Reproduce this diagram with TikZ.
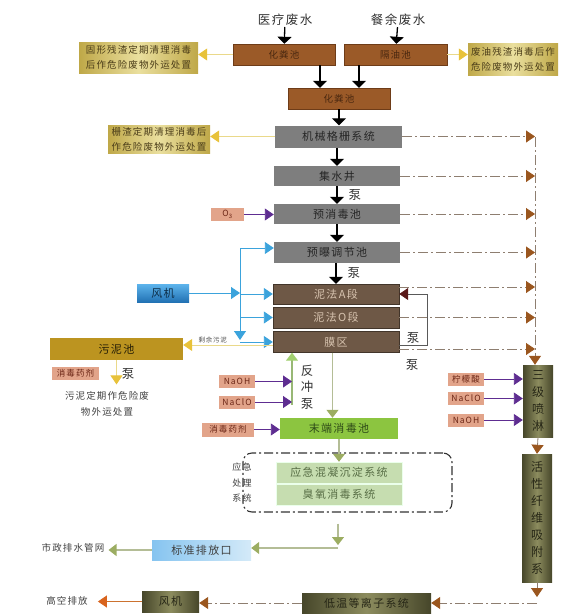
\documentclass[tikz,border=0pt]{standalone}
\usepackage{fontspec}
\setmainfont[LetterSpace=12]{Noto Sans CJK SC}
\usetikzlibrary{arrows.meta, calc}
\definecolor{zongse}{HTML}{9B5A28}
\definecolor{zongbian}{HTML}{6E3C18}
\definecolor{zongzi}{HTML}{4A2810}
\definecolor{huise}{HTML}{7E7E7E}
\definecolor{nise}{HTML}{6E5846}
\definecolor{nizi}{HTML}{D8C4B0}
\definecolor{jinA}{HTML}{BFA848}
\definecolor{jinB}{HTML}{EADF9E}
\definecolor{jinzi}{HTML}{4A3C18}
\definecolor{yaose}{HTML}{E2A48A}
\definecolor{yaozi}{HTML}{6A2414}
\definecolor{zise}{HTML}{5E2D91}
\definecolor{lanse}{HTML}{3BA3DC}
\definecolor{lanA}{HTML}{2272B4}
\definecolor{lanB}{HTML}{5DB4EC}
\definecolor{huangjian}{HTML}{E8C23A}
\definecolor{huangxian}{HTML}{EAD98A}
\definecolor{wunise}{HTML}{BC9420}
\definecolor{lvse}{HTML}{8CC540}
\definecolor{qianlv}{HTML}{C6DDB0}
\definecolor{lvzi}{HTML}{2E4A18}
\definecolor{huilv}{HTML}{B4BD96}
\definecolor{huilvjian}{HTML}{9CAD62}
\definecolor{fcjian}{HTML}{A2D070}
\definecolor{qianlanA}{HTML}{86C4F0}
\definecolor{qianlanB}{HTML}{D4EAF8}
\definecolor{ganlanA}{HTML}{46462A}
\definecolor{ganlanB}{HTML}{8C8C5E}
\definecolor{ganlanzi}{HTML}{262616}
\definecolor{xuxianse}{HTML}{8E7E70}
\definecolor{zongjian}{HTML}{9A561E}
\definecolor{anhong}{HTML}{5A1818}
\definecolor{chengse}{HTML}{D8641E}
\tikzset{
	>={Triangle[width=12pt,length=9pt]},
	% 棕色池体
	zongchi/.style={draw=zongbian, fill=zongse, minimum width=102pt, minimum height=21pt, inner sep=1pt,
	                text=zongzi, font=\fontsize{9.5}{11}\selectfont},
	% 灰色构筑物
	huichi/.style={fill=huise, minimum width=126pt, minimum height=20pt, inner sep=1pt,
	               text=black!85, font=\fontsize{11}{13}\selectfont},
	% 生化段（泥法）
	nifa/.style={draw=nise!60!black, fill=nise, minimum width=126pt, minimum height=20pt, inner sep=1pt,
	             text=nizi, font=\fontsize{11}{13}\selectfont},
	% 金色说明框
	shuoming/.style={left color=jinA, right color=jinA, middle color=jinB, align=center, inner sep=1pt,
	                 text=jinzi, font=\fontsize{9.5}{15}\selectfont},
	% 药剂框
	yaoji/.style={fill=yaose, minimum width=36pt, minimum height=13pt, inner sep=1pt,
	              text=yaozi, font=\fontsize{8.5}{9}\selectfont},
	% 橄榄色设备
	ganlan/.style={left color=ganlanA, right color=ganlanA, middle color=ganlanB, inner sep=1pt,
	               text=ganlanzi, font=\fontsize{11}{13}\selectfont},
	% 竖排文字设备
	shupai/.style={ganlan, align=center, minimum width=30pt, font=\fontsize{12}{17}\selectfont},
	% 绿色池体
	lvchi/.style={fill=lvse, minimum width=118pt, minimum height=21pt, inner sep=1pt,
	              text=lvzi, font=\fontsize{11}{13}\selectfont},
	qianlvchi/.style={fill=qianlv, draw=white!92!green, minimum width=126pt, minimum height=21pt, inner sep=1pt,
	                  text=lvzi!80, font=\fontsize{11}{13}\selectfont},
	% 普通文字
	wenzi/.style={inner sep=2pt, text=black!75, font=\fontsize{9.5}{16}\selectfont, align=center},
	bengzi/.style={inner sep=1pt, text=black!80, font=\fontsize{12.5}{16.5}\selectfont, align=center},
	% 连线
	zhuliu/.style={-{Triangle[width=14pt,length=7pt]}, line width=1.3pt},
	ziline/.style={->, zise, line width=0.9pt},
	lanline/.style={->, lanse, line width=0.9pt},
	huangline/.style={-{Triangle[width=12pt,length=9pt,color=huangjian]}, huangxian, line width=1pt},
	lvline/.style={-{Triangle[width=12pt,length=8pt,color=huilvjian]}, huilv, line width=1.2pt},
	fcline/.style={-{Triangle[width=12pt,length=8pt,color=fcjian]}, fcjian!70!gray, line width=1.1pt},
	xuxian/.style={-{Triangle[width=12pt,length=9pt,color=zongjian]}, xuxianse, line width=0.8pt,
	               dash pattern=on 10pt off 3pt on 2pt off 3pt},
}

\begin{document}
\begin{tikzpicture}[x=1pt, y=-1pt]
    \useasboundingbox (0,0) rectangle (587,616);

    % 进水与预处理
    \node[bengzi, font=\fontsize{12.5}{14}\selectfont] (ylfs) at (285,20) {医疗废水};
    \node[bengzi, font=\fontsize{12.5}{14}\selectfont] (cyfs) at (398,20) {餐余废水};
    \node[zongchi] (hfc1) at (284,54.5) {化粪池};
    \node[zongchi, minimum width=103pt] (gyc) at (395.5,54.5) {隔油池};
    \node[zongchi] (hfc2) at (339,98.5) {化粪池};
    \node[shuoming, minimum width=119pt, minimum height=31pt] (gxcz) at (138.5,57.5) {固形残渣定期清理消毒\\后作危险废物外运处置};
    \node[shuoming, minimum width=90pt, minimum height=32pt] (fycz) at (513,59) {废油残渣消毒后作\\危险废物外运处置};
    \draw[zhuliu] (ylfs) -- (hfc1);
    \draw[zhuliu] (cyfs) -- (gyc);
    \draw[huangline] (hfc1.west) -- (hfc1.west -| gxcz.east);
    \draw[huangline] (gyc.east) -- (gyc.east -| fycz.west);
    \draw[zhuliu] ([xshift=36pt]hfc1.south) -- ([xshift=36pt]hfc1.south |- hfc2.north);
    \draw[zhuliu] ([xshift=-36.5pt]gyc.south) -- ([xshift=-36.5pt]gyc.south |- hfc2.north);

    % 主流程
    \node[huichi, minimum width=127pt, minimum height=22pt] (jxgs) at (338.5,136.5) {机械格栅系统};
    \node[huichi] (jsj) at (337,176) {集水井};
    \node[huichi] (yxdc) at (337,214) {预消毒池};
    \node[huichi, minimum height=21pt] (ybtj) at (337,252.5) {预曝调节池};
    \node[nifa] (ad) at (336,294) {泥法A段};
    \node[nifa, minimum height=21pt] (od) at (336,317.5) {泥法O段};
    \node[nifa, minimum height=21pt] (mq) at (336,342) {膜区};
    \node[shuoming, minimum width=102pt, minimum height=28pt] (szcz) at (159,139) {栅渣定期清理消毒后\\作危险废物外运处置};
    \draw[zhuliu] (hfc2.south) -- (hfc2.south |- jxgs.north);
    \draw[huangline] (jxgs.west) -- (jxgs.west -| szcz.east);
    \draw[zhuliu] (jxgs.south -| jsj.north) -- (jsj.north);
    \draw[zhuliu] (jsj.south) -- (yxdc.north) node[midway, right=10pt, bengzi] (beng1) {泵};
    \draw[zhuliu] (yxdc.south) -- (ybtj.north);
    \draw[zhuliu] (ybtj.south -| ad.north) -- (ad.north) node[midway, right=10pt, bengzi] (beng2) {泵};

    % 臭氧
    \node[yaoji, minimum width=33pt] (o3) at (227.5,214.5) {O\textsubscript{3}};
    \draw[ziline] (o3.east) -- (o3.east -| yxdc.west);

    % 风机曝气
    \node[top color=lanB, bottom color=lanA, minimum width=52pt, minimum height=18pt, inner sep=1pt,
          text=lanA!40!black, font=\fontsize{11}{13}\selectfont] (fj1) at (163,293) {风机};
    \coordinate (lanzhu) at (240,248);
    \coordinate (lanxia) at (240,340);
    \draw[lanline] (fj1.east) -- (fj1.east -| lanzhu);
    \draw[lanline] (lanzhu) -- (lanxia);
    \draw[lanline] (lanzhu) -- (lanzhu -| ybtj.west);
    \draw[lanline] (ad.west -| lanzhu) -- (ad.west);
    \draw[lanline] (od.west -| lanzhu) -- (od.west);
    \draw[lanline] (mq.west -| lanzhu) -- (mq.west);

    % 污泥
    \node[fill=wunise, minimum width=133pt, minimum height=22pt, inner sep=1pt,
          text=black!80!wunise, font=\fontsize{11}{13}\selectfont] (wnc) at (116.5,349) {污泥池};
    \node[yaoji, minimum width=47pt] (xdyj1) at (75.5,373.5) {消毒药剂};
    \node[bengzi] (beng3) at (128,374) {泵};
    \node[wenzi] (wnwy) at (107,404) {污泥定期作危险废\\物外运处置};
    \draw[huangline] ([yshift=-3pt]mq.west) -- ([yshift=-3pt]mq.west -| wnc.east)
        node[pos=0.67, above, inner sep=1pt, text=black!70, font=\fontsize{6.5}{7}\selectfont] {剩余污泥};
    \draw[huangline, shorten >=5pt] (wnc.south) -- (wnc.south |- wnwy.north);

    % 膜区回流
    \coordinate (hlx) at (427,294);
    \draw[-{Triangle[width=12pt,length=9pt,color=anhong]}, black!65, line width=0.8pt]
        ([yshift=-3pt]mq.east) -| (hlx) -- (ad.east);
    \node[bengzi] (beng4) at (413,338) {泵};
    \node[bengzi] (beng5) at (412,365) {泵};

    % 反冲与末端消毒
    \coordinate (fcdi) at (292,405);
    \draw[fcline] (fcdi) -- (fcdi |- mq.south);
    \node[bengzi] (fcb) at (307,387) {反\\冲\\泵};
    \node[yaoji] (naoh1) at (237,381.5) {NaOH};
    \node[yaoji] (naclo1) at (237,402) {NaClO};
    \draw[ziline] (naoh1.east) -- (naoh1.east -| fcdi);
    \draw[ziline] (naclo1.east) -- (naclo1.east -| fcdi);
    \node[lvchi] (mdxd) at (339,428.5) {末端消毒池};
    \node[yaoji, minimum width=52pt, minimum height=14pt] (xdyj2) at (228,429.5) {消毒药剂};
    \draw[ziline] (xdyj2.east) -- (xdyj2.east -| mdxd.west);
    \draw[lvline] ([xshift=-3.5pt]mq.south) -- ([xshift=-3.5pt]mq.south |- mdxd.north);

    % 应急处理系统
    \node[draw=black!80, line width=1.1pt, rounded corners=9pt, dash pattern=on 9pt off 3pt on 2pt off 3pt,
          minimum width=209pt, minimum height=59pt] (yjxt) at (347.5,482.5) {};
    \node[qianlvchi] (yjcn) at (339,472.5) {应急混凝沉淀系统};
    \node[qianlvchi] (cyxd) at (339,494.5) {臭氧消毒系统};
    \node[wenzi, font=\fontsize{9}{15.5}\selectfont] (yjwz) at (242,483) {应急\\处理\\系统};
    \draw[lvline] (mdxd.south) -- (yjcn.north);

    % 排放
    \node[left color=qianlanA, right color=qianlanB, minimum width=99pt, minimum height=20pt, inner sep=1pt,
          text=black!75, font=\fontsize{11}{13}\selectfont] (bzpf) at (201.5,550) {标准排放口};
    \node[wenzi] (szps) at (73,548) {市政排水管网};
    \coordinate (pfzj) at (338,548);
    \draw[lvline, shorten <=11pt] (yjxt.south -| pfzj) -- ([yshift=3pt]pfzj);
    \draw[lvline] (pfzj) -- (pfzj -| bzpf.east);
    \draw[lvline, shorten >=2pt] (bzpf.west) -- (bzpf.west -| szps.east);

    % 废气处理
    \coordinate (hui) at (535,137);
    \draw[xuxian] (jxgs.east) -- (jxgs.east -| hui);
    \draw[xuxian] (jsj.east) -- (jsj.east -| hui);
    \draw[xuxian] (yxdc.east) -- (yxdc.east -| hui);
    \draw[xuxian] (ybtj.east) -- (ybtj.east -| hui);
    \draw[xuxian] ([yshift=7pt]ad.east) -- ([yshift=7pt]ad.east -| hui);
    \draw[xuxian] (od.east) -- (od.east -| hui);
    \draw[xuxian] ([yshift=-7pt]mq.east) -- ([yshift=-7pt]mq.east -| hui);
    \node[shupai, minimum height=72pt] (sjpl) at (538,401) {三\\级\\喷\\淋};
    \node[shupai, minimum height=128pt] (hxxw) at (537,518) {活\\性\\纤\\维\\吸\\附\\系};
    \draw[xuxian] (hui) -- (hui |- sjpl.north);
    \node[yaoji] (nmsuan) at (466,379) {柠檬酸};
    \node[yaoji] (naclo2) at (466,398.5) {NaClO};
    \node[yaoji] (naoh2) at (466,420) {NaOH};
    \draw[ziline] (nmsuan.east) -- (nmsuan.east -| sjpl.west);
    \draw[ziline] (naclo2.east) -- (naclo2.east -| sjpl.west);
    \draw[ziline] (naoh2.east) -- (naoh2.east -| sjpl.west);
    \draw[xuxian] (sjpl.south) -- (hxxw.north);
    \node[ganlan, minimum width=129pt, minimum height=20pt] (dwlz) at (366.5,603) {低温等离子系统};
    \node[ganlan, minimum width=57pt, minimum height=21pt] (fj2) at (170.5,601.5) {风机};
    \node[wenzi] (gkpf) at (67,601) {高空排放};
    \coordinate (dwjiao) at (537,603);
    \draw[xuxian] (hxxw.south) -- ([yshift=6pt]dwjiao);
    \draw[xuxian] (dwjiao) -- (dwlz.east);
    \draw[xuxian] (dwlz.west) -- (dwlz.west -| fj2.east);
    \draw[-{Triangle[width=12pt,length=9pt,color=chengse]}, chengse!50!brown, line width=1pt, shorten >=8pt]
        (fj2.west) -- (fj2.west -| gkpf.east);
\end{tikzpicture}
\end{document}
